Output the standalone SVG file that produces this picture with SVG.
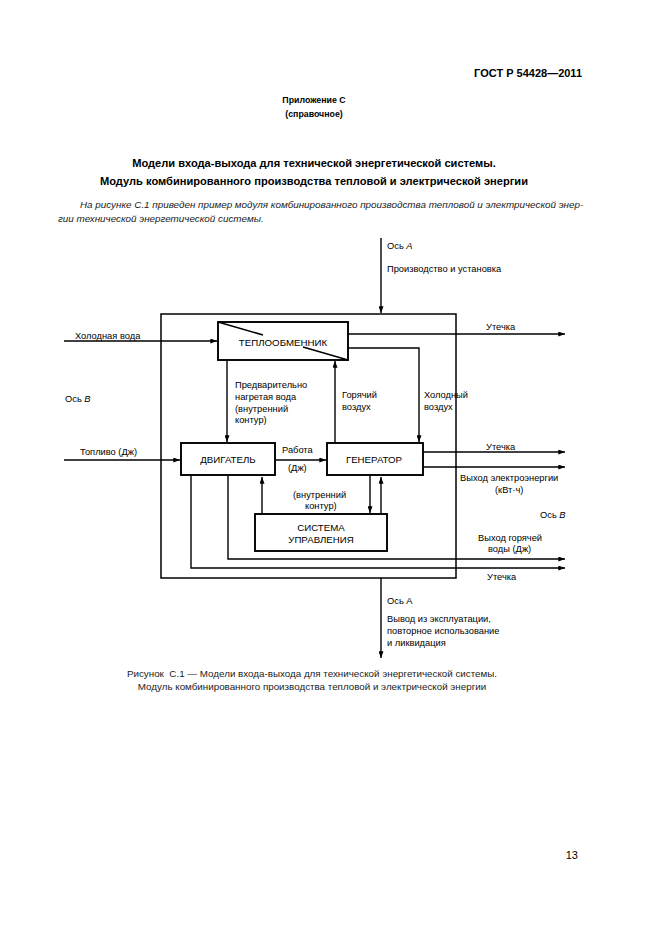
<svg xmlns="http://www.w3.org/2000/svg" width="661" height="936" viewBox="0 0 661 936">
<style>
text{font-family:"Liberation Sans",Arial,sans-serif;fill:#000}
.hdr{font-size:11px;font-weight:bold}
.app{font-size:8.8px;font-weight:bold}
.ttl{font-size:11.1px;font-weight:bold}
.par{font-size:9.85px;font-style:italic;fill:#222}
.cap{font-size:9.8px;fill:#222}
.lbl{font-size:9.3px}
.box{fill:#fff;stroke:#000;stroke-width:1.9}
.bx{font-size:9.7px}
.ln{fill:none;stroke:#000;stroke-width:1.4}
</style>
<defs>
<marker id="ah" viewBox="0 0 8 6" refX="8" refY="3" markerWidth="7" markerHeight="5" markerUnits="userSpaceOnUse" orient="auto"><path d="M0,0 L8,3 L0,6 z" fill="#000"/></marker>
</defs>
<rect width="661" height="936" fill="#fff"/>
<g id="page-text">
<text class="hdr" x="582" y="77" text-anchor="end">ГОСТ Р 54428—2011</text>
<text class="app" x="314" y="103" text-anchor="middle">Приложение С</text>
<text class="app" x="314" y="117" text-anchor="middle">(справочное)</text>
<text class="ttl" x="314" y="167" text-anchor="middle">Модели входа-выхода для технической энергетической системы.</text>
<text class="ttl" x="314" y="185" text-anchor="middle">Модуль комбинированного производства тепловой и электрической энергии</text>
<text class="par" x="80" y="208">На рисунке С.1 приведен пример модуля комбинированного производства тепловой и электрической энер-</text>
<text class="par" x="58" y="222">гии технической энергетической системы.</text>
<text class="cap" x="312" y="677" text-anchor="middle">Рисунок&#160; С.1 — Модели входа-выхода для технической энергетической системы.</text>
<text class="cap" x="312" y="690" text-anchor="middle">Модуль комбинированного производства тепловой и электрической энергии</text>
<text class="hdr" x="578" y="859" text-anchor="end" style="font-weight:normal">13</text>
</g>
<g id="system-boundary">
<rect x="161" y="314" width="295" height="264" fill="none" stroke="#000" stroke-width="1.5"/>
</g>
<g id="connectors" class="ln">
<path class="ln" d="M381,238 V313" marker-end="url(#ah)"/>
<path class="ln" d="M64,341 H217" marker-end="url(#ah)"/>
<path class="ln" d="M348,334 H565" marker-end="url(#ah)"/>
<path class="ln" d="M348,348 H419 V442" marker-end="url(#ah)"/>
<path class="ln" d="M335,443 V361" marker-end="url(#ah)"/>
<path class="ln" d="M227,360 V442" marker-end="url(#ah)"/>
<path class="ln" d="M64,460 H180" marker-end="url(#ah)"/>
<path class="ln" d="M275,460 H326" marker-end="url(#ah)"/>
<path class="ln" d="M423,452 H565" marker-end="url(#ah)"/>
<path class="ln" d="M423,467 H565" marker-end="url(#ah)"/>
<path class="ln" d="M370,475 V513" marker-end="url(#ah)"/>
<path class="ln" d="M381,514 V477" marker-end="url(#ah)"/>
<path class="ln" d="M262,514 V477" marker-end="url(#ah)"/>
<path class="ln" d="M228,475 V559 H565" marker-end="url(#ah)"/>
<path class="ln" d="M191,475 V568 H565" marker-end="url(#ah)"/>
<path class="ln" d="M381,578 V658" marker-end="url(#ah)"/>
</g>
<g id="heat-exchanger">
<rect class="box" x="218" y="322" width="130" height="38"/>
<path d="M218,322 L263,335 M303,347 L348,360" stroke="#000" stroke-width="1.6"/>
<text class="bx" x="283" y="346" text-anchor="middle">ТЕПЛООБМЕННИК</text>
</g>
<g id="engine">
<rect class="box" x="181" y="443" width="94" height="32"/>
<text class="bx" x="228" y="463" text-anchor="middle">ДВИГАТЕЛЬ</text>
</g>
<g id="generator">
<rect class="box" x="327" y="443" width="96" height="32"/>
<text class="bx" x="374" y="463" text-anchor="middle">ГЕНЕРАТОР</text>
</g>
<g id="control-system">
<rect class="box" x="255" y="514" width="132" height="37"/>
<text class="bx" x="321" y="531" text-anchor="middle">СИСТЕМА</text>
<text class="bx" x="321" y="543" text-anchor="middle">УПРАВЛЕНИЯ</text>
</g>
<g id="labels">
<text class="lbl" x="387" y="249">Ось <tspan font-style="italic">А</tspan></text>
<text class="lbl" x="387" y="272">Производство и установка</text>
<text class="lbl" x="486" y="330">Утечка</text>
<text class="lbl" x="75" y="339">Холодная вода</text>
<text class="lbl" x="65" y="402">Ось <tspan font-style="italic">В</tspan></text>
<text class="lbl" x="235" y="388">Предварительно</text>
<text class="lbl" x="235" y="400">нагретая вода</text>
<text class="lbl" x="235" y="412">(внутренний</text>
<text class="lbl" x="235" y="423">контур)</text>
<text class="lbl" x="342" y="398">Горячий</text>
<text class="lbl" x="342" y="410">воздух</text>
<text class="lbl" x="424" y="398">Холодный</text>
<text class="lbl" x="424" y="410">воздух</text>
<text class="lbl" x="80" y="455">Топливо (Дж)</text>
<text class="lbl" x="282" y="453">Работа</text>
<text class="lbl" x="288" y="471">(Дж)</text>
<text class="lbl" x="486" y="450">Утечка</text>
<text class="lbl" x="460" y="481">Выход электроэнергии</text>
<text class="lbl" x="495" y="493">(кВт·ч)</text>
<text class="lbl" x="540" y="518">Ось <tspan font-style="italic">В</tspan></text>
<text class="lbl" x="293" y="498">(внутренний</text>
<text class="lbl" x="305" y="509">контур)</text>
<text class="lbl" x="478" y="541">Выход горячей</text>
<text class="lbl" x="488" y="552">воды (Дж)</text>
<text class="lbl" x="487" y="580">Утечка</text>
<text class="lbl" x="387" y="604">Ось А</text>
<text class="lbl" x="387" y="622">Вывод из эксплуатации,</text>
<text class="lbl" x="387" y="634">повторное использование</text>
<text class="lbl" x="387" y="646">и ликвидация</text>
</g>
</svg>
